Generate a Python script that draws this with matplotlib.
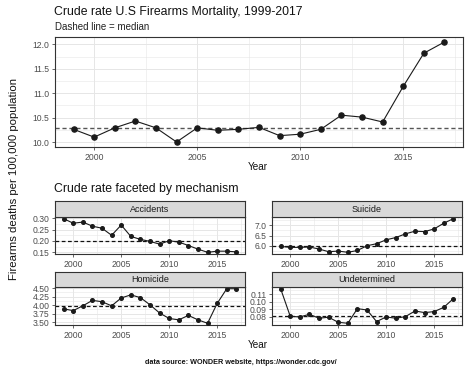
import matplotlib
matplotlib.use("Agg")
import matplotlib.pyplot as plt
import numpy as np
from matplotlib.ticker import FixedLocator

plt.rcParams['font.family'] = ['Liberation Sans', 'DejaVu Sans']

years = list(range(1999, 2018))
total = [10.26, 10.10, 10.29, 10.43, 10.29, 10.00, 10.29, 10.24, 10.26, 10.30,
         10.13, 10.16, 10.26, 10.55, 10.51, 10.41, 11.14, 11.82, 12.05]
accidents = [0.298, 0.278, 0.283, 0.265, 0.256, 0.225, 0.270, 0.220, 0.207, 0.198,
             0.186, 0.201, 0.195, 0.180, 0.164, 0.150, 0.155, 0.155, 0.152]
suicide = [5.97, 5.92, 5.92, 5.94, 5.84, 5.71, 5.74, 5.68, 5.77, 6.00,
           6.10, 6.29, 6.40, 6.58, 6.71, 6.69, 6.82, 7.10, 7.32]
homicide = [3.89, 3.84, 3.98, 4.14, 4.10, 3.98, 4.21, 4.30, 4.22, 4.01,
            3.77, 3.61, 3.57, 3.70, 3.57, 3.47, 4.05, 4.48, 4.48]
undetermined = [0.117, 0.0809, 0.0800, 0.0835, 0.0783, 0.0796, 0.0730, 0.0717, 0.0909, 0.0891,
                0.0739, 0.0800, 0.0783, 0.0804, 0.0878, 0.0857, 0.0870, 0.0926, 0.104]

facets = [
    ("Accidents", accidents, [0.15, 0.20, 0.25, 0.30], "{:.2f}"),
    ("Suicide", suicide, [6.0, 6.5, 7.0], "{:.1f}"),
    ("Homicide", homicide, [3.50, 3.75, 4.00, 4.25, 4.50], "{:.2f}"),
    ("Undetermined", undetermined, [0.08, 0.09, 0.10, 0.11], "{:.2f}"),
]

W, H = 468, 369
fig = plt.figure(figsize=(W / 100, H / 100), dpi=100)
fig.patch.set_facecolor("white")

def px_axes(x0, y0, x1, y1, **kw):
    return fig.add_axes([x0 / W, 1 - y1 / H, (x1 - x0) / W, (y1 - y0) / H], **kw)

GRID = "#E6E6E6"
TICKC = "#4D4D4D"

def style(ax, yticks, fmt, ysize=6.2):
    ax.set_facecolor("white")
    for s in ax.spines.values():
        s.set_color("#333333")
        s.set_linewidth(0.8)
    ax.set_xticks([2000, 2005, 2010, 2015])
    ax.xaxis.set_minor_locator(FixedLocator([1997.5, 2002.5, 2007.5, 2012.5, 2017.5]))
    ax.set_yticks(yticks)
    ax.set_yticklabels([fmt.format(v) for v in yticks])
    step = yticks[1] - yticks[0]
    minors = [yticks[0] - step / 2] + [v + step / 2 for v in yticks]
    ax.yaxis.set_minor_locator(FixedLocator(minors))
    ax.grid(True, which="major", color=GRID, linewidth=0.7, zorder=0)
    ax.grid(True, which="minor", color=GRID, linewidth=0.4, zorder=0)
    ax.set_axisbelow(True)
    ax.tick_params(axis="both", which="major", labelsize=ysize, colors=TICKC, length=2.5,
                   width=0.6, pad=1.5)
    ax.tick_params(axis="both", which="minor", length=0)

def limits(ax, vals):
    lo, hi = min(vals), max(vals)
    r = hi - lo
    ax.set_ylim(lo - 0.05 * r, hi + 0.05 * r)
    ax.set_xlim(1999 - 0.9, 2017 + 0.9)

# Top panel
ax0 = px_axes(55, 37, 463, 147)
ax0.plot(years, total, color="#1A1A1A", linewidth=0.8, marker="o", markersize=3.7, zorder=3)
ax0.axhline(np.median(total), color="#555555", linestyle=(0, (3, 2)), linewidth=1.0, zorder=2)
limits(ax0, total)
style(ax0, [10.0, 10.5, 11.0, 11.5, 12.0], "{:.1f}")
fig.text(54 / W, 1 - 12 / H, "Crude rate U.S Firearms Mortality, 1999-2017", fontsize=8.8,
         color="#111111", va="center", ha="left")
fig.text(55 / W, 1 - 27 / H, "Dashed line = median", fontsize=7, color="#222222",
         va="center", ha="left")
fig.text(258 / W, 1 - 167 / H, "Year", fontsize=7.2, color="#111111", va="center", ha="center")

# Facets
fig.text(54 / W, 1 - 189 / H, "Crude rate faceted by mechanism", fontsize=8.8,
         color="#111111", va="center", ha="left")
boxes = [(55, 245, 201, 217, 254), (272, 462, 201, 217, 254),
         (55, 245, 272, 287, 325), (272, 462, 272, 287, 325)]
for (name, vals, yt, fmt), (x0, x1, st, sb, pb) in zip(facets, boxes):
    ax = px_axes(x0, sb, x1, pb)
    ax.plot(years, vals, color="#1A1A1A", linewidth=0.8, marker="o", markersize=2.6, zorder=3)
    ax.axhline(np.median(vals), color="#111111", linestyle=(0, (3, 2)), linewidth=0.9, zorder=2)
    limits(ax, vals)
    style(ax, yt, fmt)
    sax = px_axes(x0, st, x1, sb)
    sax.set_facecolor("#D9D9D9")
    sax.set_xticks([])
    sax.set_yticks([])
    for s in sax.spines.values():
        s.set_color("#333333")
        s.set_linewidth(0.8)
    sax.text(0.5, 0.5, name, transform=sax.transAxes, ha="center", va="center",
             fontsize=6.5, color="#1A1A1A")

fig.text(258 / W, 1 - 345 / H, "Year", fontsize=7.2, color="#111111", va="center", ha="center")
fig.text(241 / W, 1 - 363 / H, "data source: WONDER website, https://wonder.cdc.gov/",
         fontsize=5.2, color="#111111", va="center", ha="center", fontweight="bold")
fig.text(14 / W, 1 - 179 / H, "Firearms deaths per 100,000 population", fontsize=8.2,
         color="#111111", va="center", ha="center", rotation=90)

fig.savefig("out.png", dpi=100, facecolor="white")
